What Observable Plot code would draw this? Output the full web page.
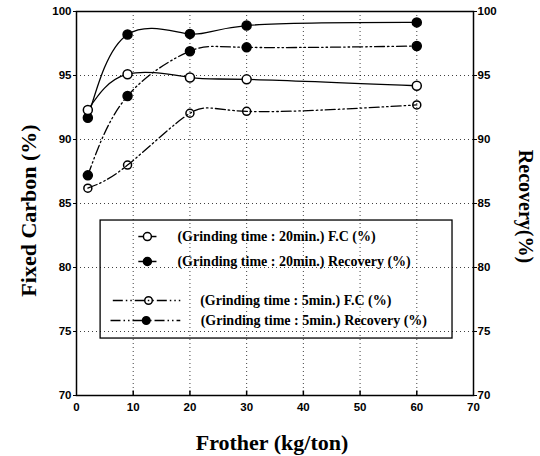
<!DOCTYPE html>
<html>
<head>
<meta charset="utf-8">
<script src="https://cdn.jsdelivr.net/npm/d3@7"></script>
<script src="https://cdn.jsdelivr.net/npm/@observablehq/plot@0.6"></script>
<style>
  html, body { margin: 0; padding: 0; background: white; }
</style>
</head>
<body>
<div id="chart"></div>
<script>
// ---- data ----
const frother = [2, 9, 20, 30, 60];
const fc20 = [92.3, 95.1, 94.85, 94.7, 94.2];
const rec20 = [91.7, 98.2, 98.25, 98.9, 99.15];
const fc5 = [86.2, 88.0, 92.05, 92.2, 92.7];
const rec5 = [87.2, 93.4, 96.9, 97.2, 97.3];
const seriesNames = [
  "(Grinding time : 20min.) F.C (%)",
  "(Grinding time : 20min.) Recovery (%)",
  "(Grinding time : 5min.) F.C (%)",
  "(Grinding time : 5min.) Recovery (%)"
];
const xTicks = [0, 10, 20, 30, 40, 50, 60, 70];
const yTicks = [70, 75, 80, 85, 90, 95, 100];
const xLabel = "Frother (kg/ton)";
const yLabelLeft = "Fixed Carbon (%)";
const yLabelRight = "Recovery(%)";

// ---- build tables ----
const toRows = vals => frother.map((x, i) => ({x, y: vals[i]}));
const sFC20 = toRows(fc20), sRec20 = toRows(rec20), sFC5 = toRows(fc5), sRec5 = toRows(rec5);

const DASHDOT = "10,3,1.5,3,1.5,3";
const serif = "'Liberation Serif', 'Times New Roman', serif";
const sans = "'Liberation Sans', Arial, sans-serif";

// legend layout (in chart coordinates)
const legendBox = {x1: 4.25, x2: 66.3, y1: 74.45, y2: 83.67};
const legSolid = [
  {name: seriesNames[0], x1: 10.9, x2: 14.1, xm: 12.5, tx: 17.8, y: 82.42, fill: "white"},
  {name: seriesNames[1], x1: 10.9, x2: 14.1, xm: 12.5, tx: 17.8, y: 80.47, fill: "black"}
];
const legDash = [
  {name: seriesNames[2], x1: 6.4, x2: 18.3, xm: 12.7, tx: 21.8, y: 77.42, fill: "none"},
  {name: seriesNames[3], x1: 6.0, x2: 18.3, xm: 12.3, tx: 21.9, y: 75.86, fill: "black"}
];

const lineOpts = {x: "x", y: "y", curve: "natural", stroke: "black", strokeWidth: 1.3};
const tickFont = {fontSize: 11.5, fontWeight: "bold", fontFamily: sans};
const titleFont = {fontSize: 22, fontWeight: "bold", fontFamily: serif, textAnchor: "middle", lineAnchor: "middle"};

const chart = Plot.plot({
  width: 540,
  height: 456,
  marginLeft: 76,
  marginRight: 67,
  marginTop: 11,
  marginBottom: 61,
  x: {domain: [0, 70]},
  y: {domain: [70, 100]},
  style: {background: "white", color: "black"},
  marks: [
    // dotted grid
    Plot.ruleX(xTicks.slice(1, -1), {stroke: "black", strokeOpacity: 0.75, strokeDasharray: "1,3"}),
    Plot.ruleY(yTicks.slice(1, -1), {stroke: "black", strokeOpacity: 0.75, strokeDasharray: "1,3"}),
    // inward bottom ticks
    Plot.ruleX(xTicks.slice(1, -1), {y1: 70, y2: 70.35, stroke: "black", strokeWidth: 1.5}),
    // axes
    Plot.axisY(yTicks, {anchor: "left", tickSize: 3, tickPadding: 2, label: null, ...tickFont}),
    Plot.axisY(yTicks, {anchor: "right", tickSize: 3, tickPadding: 1, label: null, ...tickFont}),
    Plot.axisX(xTicks, {anchor: "bottom", tickSize: 0, tickPadding: 7, label: null, ...tickFont}),
    Plot.frame({stroke: "black", strokeWidth: 1.5}),
    // series lines
    Plot.line(sRec20, lineOpts),
    Plot.line(sFC20, lineOpts),
    Plot.line(sRec5, {...lineOpts, strokeDasharray: DASHDOT}),
    Plot.line(sFC5, {...lineOpts, strokeDasharray: DASHDOT}),
    // markers
    Plot.dot(sRec20, {x: "x", y: "y", r: 4.5, fill: "black", stroke: "black"}),
    Plot.dot(sFC20, {x: "x", y: "y", r: 4.5, fill: "white", stroke: "black", strokeWidth: 1.5}),
    Plot.dot(sRec5, {x: "x", y: "y", r: 4.5, fill: "black", stroke: "black"}),
    Plot.dot(sFC5, {x: "x", y: "y", r: 4, fill: "none", stroke: "black", strokeWidth: 1.5}),
    // legend
    Plot.rect([legendBox], {x1: "x1", x2: "x2", y1: "y1", y2: "y2", fill: "none", stroke: "black", strokeWidth: 1.3}),
    Plot.link(legSolid, {x1: "x1", x2: "x2", y1: "y", y2: "y", stroke: "black", strokeWidth: 1.5}),
    Plot.link(legDash, {x1: "x1", x2: "x2", y1: "y", y2: "y", stroke: "black", strokeWidth: 1.5, strokeDasharray: DASHDOT}),
    Plot.dot(legSolid, {x: "xm", y: "y", r: 4, fill: "fill", stroke: "black", strokeWidth: 1.5}),
    Plot.dot(legDash, {x: "xm", y: "y", r: 3.8, fill: d => d.fill === "none" ? "none" : "black", stroke: "black", strokeWidth: 1.5}),
    Plot.text([...legSolid, ...legDash], {x: "tx", y: "y", text: "name", textAnchor: "start", fontSize: 14, fontWeight: "bold", fontFamily: serif}),
    // axis titles
    Plot.text([yLabelLeft], {text: d => d, frameAnchor: "left", dx: -48, dy: 7, rotate: -90, ...titleFont}),
    Plot.text([yLabelRight], {text: d => d, frameAnchor: "right", dx: 52, dy: 3, rotate: 90, ...titleFont, fontSize: 20}),
    Plot.text([xLabel], {text: d => d, frameAnchor: "bottom", dy: 47, dx: -3, ...titleFont})
  ]
});
document.getElementById("chart").appendChild(chart);
</script>
</body>
</html>
